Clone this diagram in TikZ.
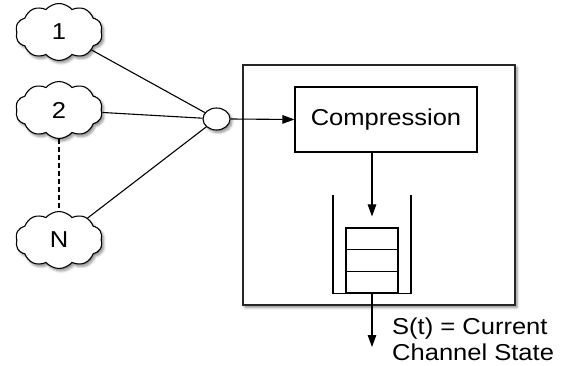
\documentclass[tikz,border=0pt]{standalone}
\usepackage{fontspec}
\setmainfont{Liberation Sans}[FakeStretch=1.11]
\usetikzlibrary{shapes.symbols,shapes.geometric,arrows.meta,shadows.blur}

\tikzset{
  shade/.style={blur shadow={shadow xshift=2pt, shadow yshift=-2.5pt,
      shadow blur steps=6, shadow blur radius=2.5pt, shadow opacity=45}},
  source/.style={cloud, cloud puffs=10, cloud puff arc=100, draw, line width=1.1pt,
      fill=white, shade, minimum width=87pt, minimum height=57pt, inner sep=0pt,
      font=\fontsize{23}{25}\selectfont},
  hubnode/.style={ellipse, draw, line width=1.1pt, fill=white, shade,
      minimum width=27pt, minimum height=22pt, inner sep=0pt},
  outer/.style={rectangle, draw=black!85, line width=1.4pt, fill=white, shade,
      inner sep=0pt},
  block/.style={rectangle, draw, line width=1.1pt, fill=white, inner sep=0pt,
      font=\fontsize{23}{25}\selectfont},
  link/.style={line width=1.1pt},
  flow/.style={line width=1.1pt, -{Triangle[length=12pt,width=8.5pt]}},
  caption/.style={align=left, anchor=north west, inner sep=0pt,
      font=\fontsize{23}{26}\selectfont},
}

\begin{document}
\begin{tikzpicture}[x=1pt, y=-1pt]
  \useasboundingbox (0,0) rectangle (570,366);

  % enclosing system box
  \node[outer, minimum width=272pt, minimum height=240pt] (sys) at (379,185) {};

  % sources
  \node[source] (c1) at (59,32) {1};
  \node[source] (c2) at (59,110) {2};
  \node[source] (cn) at (59,240) {N};

  % multiplexing point
  \node[hubnode] (hub) at (216.5,119) {};

  \draw[link] (c1) -- (hub);
  \draw[link] (c2) -- (hub);
  \draw[link] (cn) -- (hub);
  \draw[link, dash pattern=on 5pt off 3pt] (c2.south) -- (cn.north);

  % compression stage
  \node[block, minimum width=182pt, minimum height=65pt] (comp) at (386,119.5) {Compression};
  \draw[flow] (hub.east) -- (comp.west);

  % queue buffer: three stacked slots inside an open-topped bucket
  \node[rectangle, draw, line width=1.1pt, minimum width=52pt, minimum height=65pt,
        inner sep=0pt] (queue) at (372,260.5) {};
  \draw[link] ([yshift=-21.7pt]queue.north west) -- ([yshift=-21.7pt]queue.north east);
  \draw[link] ([yshift=21.7pt]queue.south west) -- ([yshift=21.7pt]queue.south east);
  \coordinate (bl) at (333,195);
  \coordinate (br) at (411,195);
  \draw[link] (bl) -- (bl |- queue.south) -- (br |- queue.south) -- (br);

  \draw[flow] (comp.south -| queue.north) -- ([yshift=11pt]queue.north);

  % channel output
  \coordinate (out) at (372,347);
  \draw[flow] (queue.south) -- (out);
  \node[caption] (lbl) at (392,318) {S(t) = Current\\Channel State};
\end{tikzpicture}
\end{document}
